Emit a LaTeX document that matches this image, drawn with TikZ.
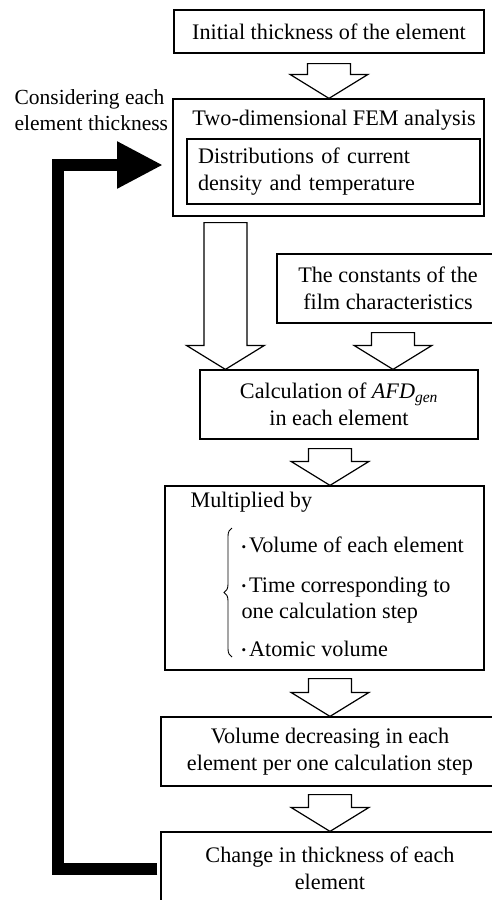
\documentclass[tikz,border=0pt]{standalone}
\usepackage{fontspec}
\setmainfont{Liberation Serif}
\usetikzlibrary{arrows.meta, calc, decorations.pathreplacing, positioning}

\newcommand{\itemdot}{{\fontsize{13}{13}\selectfont\raisebox{0.25ex}{\textbullet}}\hspace{3pt}}

\begin{document}
\begin{tikzpicture}[x=1pt, y=-1pt, line width=1.2pt,
  every node/.style={font=\fontsize{22.2}{26.5}\selectfont, inner sep=0pt},
  box/.style={draw, align=center},
  blockarrow/.style={draw, fill=white, line join=miter, to path={let \p1=(\tikztostart), \p2=(\tikztotarget) in
    (\x1-21.5pt,\y1) -- (\x1+21.5pt,\y1) -- (\x1+21.5pt,\y2+24pt) -- (\x1+39pt,\y2+24pt)
    -- (\x1,\y2) -- (\x1-39pt,\y2+24pt) -- (\x1-21.5pt,\y2+24pt) -- cycle}},
  feedback/.style={line width=12pt, line join=miter, -{Triangle[length=46pt 0 0, width=44pt 0 0]}}]
\useasboundingbox (0,0) rectangle (492,900);
\clip (0,0) rectangle (492,900);

% boxes
\node[box, minimum width=310, minimum height=43] (init) at (329,31.5) {Initial thickness of the element};
\node[draw, minimum width=311, minimum height=117] (femBox) at (328.5,157.5) {};
\node (femTitle) at (334,120) {Two-dimensional FEM analysis};
\node[draw, align=left, text width=271, inner xsep=11, minimum height=65] (dist) at (333.5,171.5)
  {Distributions of current\\density and temperature};
\node[box, minimum width=222, minimum height=69] (cons) at (388,288.5) {The constants of the\\film characteristics};
\node[box, minimum width=278, minimum height=69] (afd) at (339,404.5)
  {Calculation of \textit{AFD}\textsubscript{\textit{gen}}\\in each element};
\node[draw, minimum width=319, minimum height=184] (mult) at (324.5,578) {};
\node[anchor=west] (multTitle) at (190,502) {Multiplied by};
\node[anchor=west, align=left] (list) at (241,597)
  {\itemdot Volume of each element\\[13pt]\itemdot Time corresponding to\\one calculation step\\[11pt]\itemdot Atomic volume};
\node[box, minimum width=338, minimum height=69] (voldec) at (330,751.5)
  {Volume decreasing in each\\element per one calculation step};
\node[box, minimum width=338, minimum height=73] (chg) at (330,868.5) {Change in thickness of each\\element};
\node[anchor=west, align=left, font=\fontsize{21.5}{26}\selectfont] (consider) at (14,110)
  {Considering each\\element thickness};

% brace
\draw[line width=0.9pt, decorate, decoration={brace, amplitude=8pt}] (232,657) -- (232,528);

% hollow arrows
\draw[blockarrow] ($(init.south)+(0,10)$) to (femBox.north);
\coordinate (bigTop) at ($(femBox.south west)+(53,6)$);
\draw[blockarrow] (bigTop) to (bigTop |- afd.north);
\coordinate (consTop) at ($(cons.south)+(5,9)$);
\draw[blockarrow] (consTop) to (consTop |- afd.north);
\coordinate (afdTop) at ($(afd.south)+(-9,9)$);
\draw[blockarrow] (afdTop) to (afdTop |- mult.north);
\coordinate (multTop) at ($(mult.south)+(5.5,8)$);
\draw[blockarrow] (multTop) to (multTop |- voldec.north);
\draw[blockarrow] ($(voldec.south)+(0,8)$) to (chg.north);

% feedback loop
\coordinate (fbcorner) at (58,165);
\coordinate (fbtip) at (163,165);
\draw[feedback] ($(chg.west)+(-3,0)$) -| (fbcorner) -- (fbtip);
\end{tikzpicture}
\end{document}
